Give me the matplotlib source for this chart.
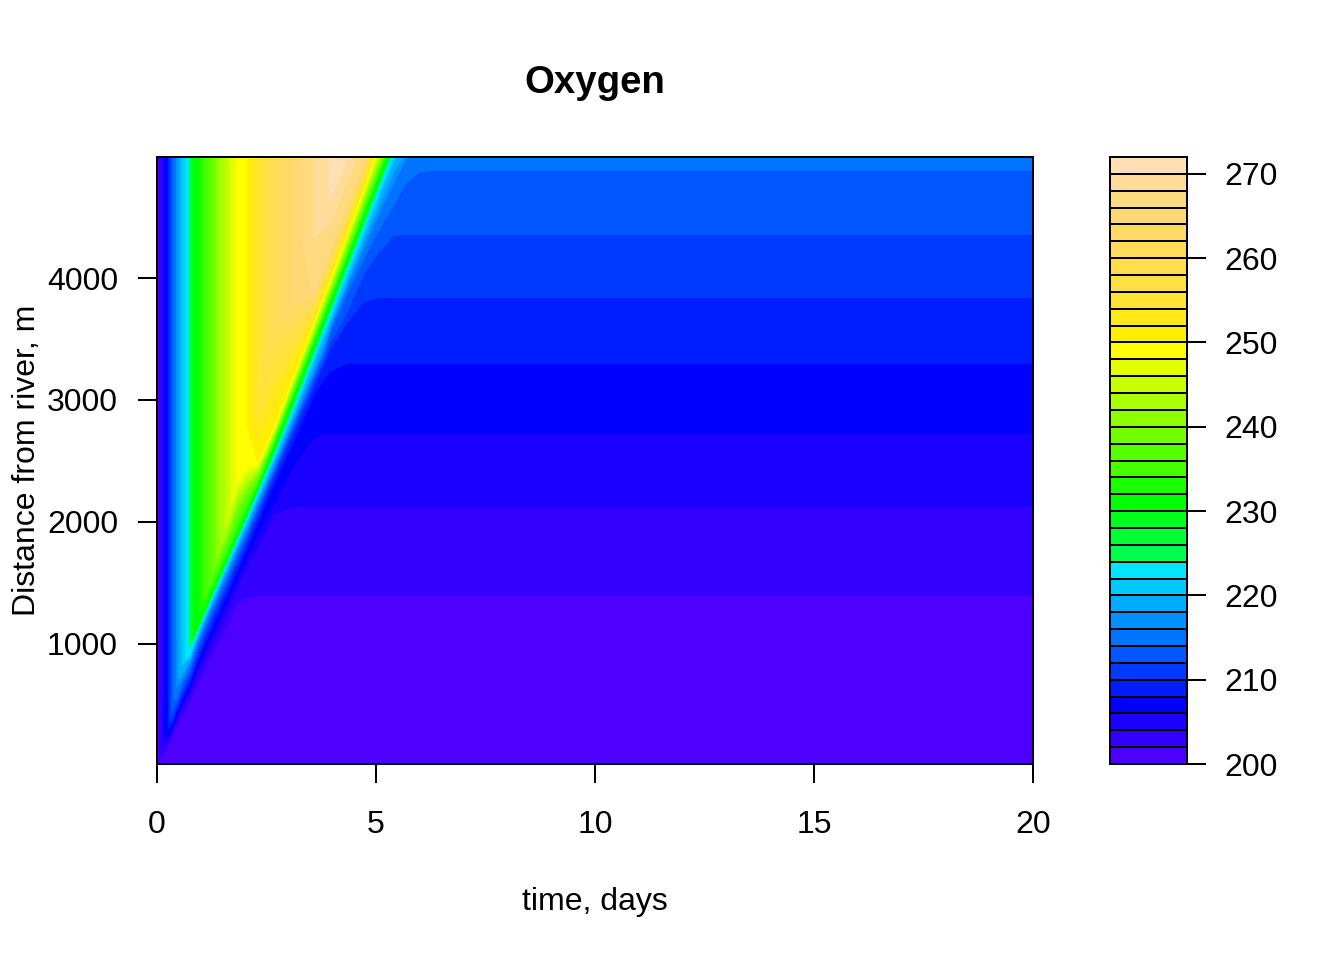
import matplotlib
matplotlib.use("Agg")
import matplotlib.pyplot as plt
import numpy as np

plt.rcParams['font.family'] = ['Liberation Sans', 'DejaVu Sans']
plt.rcParams['font.size'] = 12
plt.rcParams['axes.linewidth'] = 0.75

# Oxygen levels of the colour key, and one colour per 2-unit band (bottom to top)
levels = list(range(200, 274, 2))
band_colors = ["#4D00FF", "#3300FF", "#1A00FF", "#0000FF", "#001DFF", "#0039FF",
               "#0056FF", "#0073FF", "#0090FF", "#00ACFF", "#00C9FF", "#00E6FF",
               "#00FF4D", "#00FF33", "#00FF1A", "#00FF00", "#1CFF00", "#45FF00",
               "#55FF00", "#71FF00", "#8EFF00", "#AAFF00", "#C6FF00", "#E3FF00",
               "#FFFF00", "#FFEE00", "#FFE81A", "#FFE433", "#FFE040", "#FFDD4D",
               "#FFDB5C", "#FFD966", "#FFD873", "#FFD980", "#FFDB99", "#FFDFB3"]

# Times (days) of the columns
times = [0, .07, .18, .26, .33, .45, .56, .74, .87, 1.1, 1.36, 1.6, 1.82, 2.05, 2.3,
         2.66, 3.1, 3.57, 3.8, 3.95, 4.3, 4.7, 5.0, 5.4, 5.7, 6.0, 6.3, 7.0, 20]

# Distance (m) of each read-off line at those times, one line per row
distance = [
    [0] * 29,
    [10, 60, 130, 190, 240, 330, 410, 540, 640, 810, 1000, 1165, 1330, 1385] + [1400] * 15,
    [20, 75, 170, 225, 280, 385, 470, 600, 720, 900, 1090, 1280, 1460, 1640, 1800, 2060] + [2130] * 13,
    [30, 90, 213, 250, 315, 420, 510, 640, 770, 960, 1160, 1350, 1530, 1710, 1900, 2150, 2460, 2690] + [2730] * 11,
    [40, 105, 240, 275, 345, 455, 550, 680, 815, 1020, 1230, 1420, 1600, 1790, 2005, 2310, 2650, 3040, 3170, 3240] + [3300] * 9,
    [50, 120, 260, 310, 370, 490, 590, 720, 860, 1070, 1280, 1470, 1650, 1840, 2055, 2370, 2720, 3110, 3300, 3420, 3620, 3805] + [3840] * 7,
    [60, 135, 280, 340, 400, 520, 630, 760, 905, 1110, 1320, 1510, 1690, 1880, 2095, 2400, 2760, 3150, 3340, 3480, 3700, 4030, 4190, 4350] + [4360] * 5,
    [70, 150, 300, 370, 440, 560, 670, 800, 945, 1150, 1360, 1550, 1730, 1915, 2125, 2420, 2800, 3190, 3390, 3560, 3850, 4150, 4360, 4610, 4790, 4875, 4885, 4885, 4885],
    [80, 165, 320, 400, 480, 600, 710, 840, 975, 1185, 1395, 1585, 1765, 1945, 2155, 2450, 2820, 3215, 3410, 3590, 3900, 4230, 4480, 4790, 4990, 5020, 5030, 5040, 5040],
    [90, 180, 340, 430, 520, 650, 780, 885, 1015, 1225, 1435, 1630, 1810, 1995, 2205, 2500, 2880, 3300, 3510, 3650, 3970, 4330, 4600, 4960, 5080, 5080, 5080, 5090, 5090],
    [100, 195, 360, 460, 560, 700, 830, 926, 1070, 1265, 1480, 1675, 1855, 2045, 2255, 2550, 2940, 3375, 3590, 3725, 4050, 4420, 4695, 5060, 5100, 5120, 5120, 5120, 5120],
    [120, 220, 390, 500, 610, 760, 880, 980, 1100, 1320, 1535, 1730, 1910, 2100, 2305, 2630, 3030, 3465, 3680, 3815, 4140, 4510, 4785, 5160, 5200, 5200, 5200, 5200, 5200],
    [150, 260, 430, 550, 670, 820, 950, 1040, 1130, 1400, 1700, 1985, 2320, 2480, 2500, 2780, 3200, 3640, 3860, 4000, 4340, 4730, 5030] + [5300] * 6,
    [200, 320, 490, 620, 750, 900, 1040, 1120, 1400, 1800, 2300, 2500, 2700, 2800, 2850, 3574, 3795, 3870, 4090, 4230, 4560, 4945, 5220] + [5400] * 6,
    [300, 400, 560, 700, 840, 1000, 1140, 1200, 1500, 2100, 2600, 2800, 3000, 3200, 3400, 3900, 4200, 4330, 4700, 4640, 4950, 5200, 5400] + [5500] * 6,
    [6000] * 29,
]

# Oxygen on those lines
rise = [200, 202, 206, 208, 212, 216, 220, 224, 230, 234.5, 240, 244.5, 248, 250, 254, 260, 264, 268]
oxygen = [
    [200] * 29,
    [200] + [202] * 28,
    [200, 202] + [204] * 27,
    [200, 202] + [206] * 27,
    [200, 202, 206] + [208] * 26,
    [200, 202, 206, 208] + [210] * 25,
    [200, 202, 206, 208] + [212] * 25,
    [200, 202, 206, 208, 212] + [214] * 24,
    [200, 202, 206, 208, 212] + [216] * 24,
    [200, 202, 206, 208, 212, 216] + [220] * 23,
    [200, 202, 206, 208, 212, 216, 220] + [224] * 22,
    [200, 202, 206, 208, 212, 216, 220, 224, 230] + [232] * 20,
    [200, 202, 206, 208, 212, 216, 220, 224, 230, 234.5, 240, 244.5, 248] + [250] * 16,
    [200, 202, 206, 208, 212, 216, 220, 224, 230, 234.5, 240, 244.5, 248, 250, 254, 260, 264] + [266] * 12,
    rise + [270, 270, 270, 269] + [270] * 7,
    rise + [270, 271, 271] + [270] * 8,
]

xticks = [0, 5, 10, 15, 20]
yticks = [1000, 2000, 3000, 4000]
key_ticks = [200, 210, 220, 230, 240, 250, 260, 270]

W, H = 1344, 960
fig = plt.figure(figsize=(W / 192, H / 192), dpi=192)
ax = fig.add_axes([157 / W, 1 - 764 / H, 876 / W, 607 / H])
cax = fig.add_axes([1110 / W, 1 - 764 / H, 77 / W, 607 / H])

X = np.tile(times, (len(distance), 1))
cs = ax.contourf(X, np.array(distance), np.array(oxygen), levels=levels, colors=band_colors)
cs.set_edgecolor("face")
cs.set_linewidth(0.2)

ax.set_xlim(0, 20)
ax.set_ylim(16, 4992)
ax.set_xticks(xticks)
ax.set_yticks(yticks)
ax.tick_params(axis='x', length=7.2, width=0.75, pad=10)
ax.tick_params(axis='y', length=7.2, width=0.75, pad=7.4)
ax.set_xlabel("time, days", labelpad=17.8)
ax.set_ylabel("Distance from river, m", labelpad=2)
ax.set_title("Oxygen", fontsize=14.4, fontweight='bold', pad=24)

cb = fig.colorbar(cs, cax=cax, drawedges=True, ticks=key_ticks)
cb.dividers.set_linewidth(0.75)
cb.outline.set_linewidth(0.75)
cax.tick_params(length=7.2, width=0.75, pad=7)
cax.minorticks_off()

fig.savefig("out.png", dpi=192)
